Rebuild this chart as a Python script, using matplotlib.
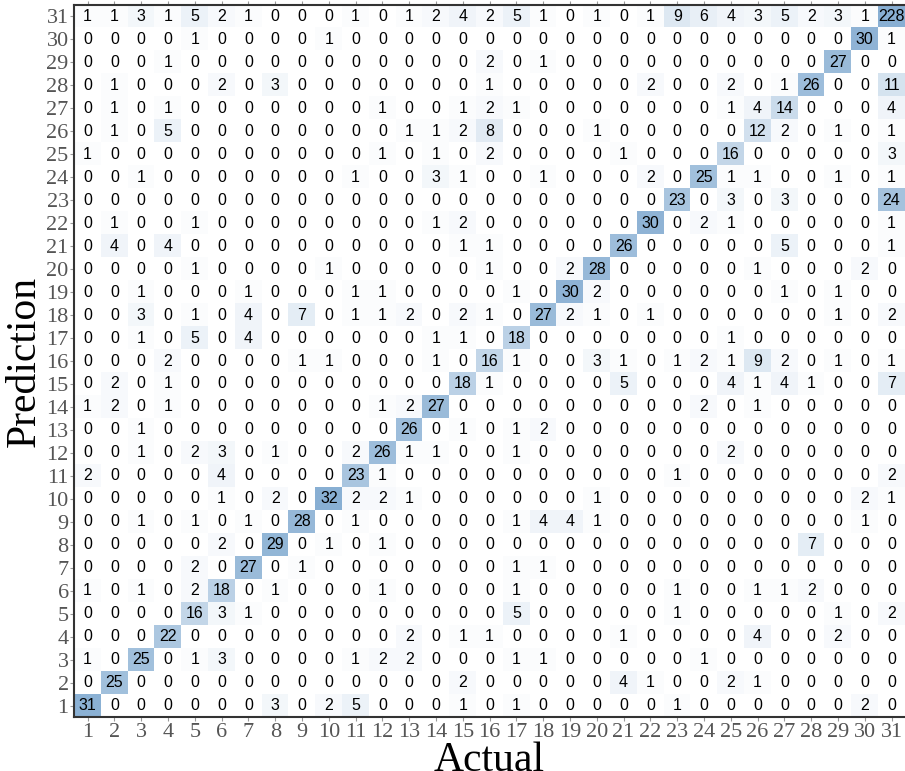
import numpy as np
import matplotlib
matplotlib.use("Agg")
import matplotlib.pyplot as plt
from matplotlib.colors import LinearSegmentedColormap

# class labels 1..31 (rows = prediction, columns = actual)
classes = list(range(1, 32))

# rows listed from prediction 1 (bottom) to 31 (top); columns actual 1..31
pred_1 = [31, 0, 0, 0, 0, 0, 0, 3, 0, 2, 5, 0, 0, 0, 1, 0, 1, 0, 0, 0, 0, 0, 1, 0, 0, 0, 0, 0, 0, 2, 0]
pred_2 = [0, 25, 0, 0, 0, 0, 0, 0, 0, 0, 0, 0, 0, 0, 2, 0, 0, 0, 0, 0, 4, 1, 0, 0, 2, 1, 0, 0, 0, 0, 0]
pred_3 = [1, 0, 25, 0, 1, 3, 0, 0, 0, 0, 1, 2, 2, 0, 0, 0, 1, 1, 0, 0, 0, 0, 0, 1, 0, 0, 0, 0, 0, 0, 0]
pred_4 = [0, 0, 0, 22, 0, 0, 0, 0, 0, 0, 0, 0, 2, 0, 1, 1, 0, 0, 0, 0, 1, 0, 0, 0, 0, 4, 0, 0, 2, 0, 0]
pred_5 = [0, 0, 0, 0, 16, 3, 1, 0, 0, 0, 0, 0, 0, 0, 0, 0, 5, 0, 0, 0, 0, 0, 1, 0, 0, 0, 0, 0, 1, 0, 2]
pred_6 = [1, 0, 1, 0, 2, 18, 0, 1, 0, 0, 0, 1, 0, 0, 0, 0, 1, 0, 0, 0, 0, 0, 1, 0, 0, 1, 1, 2, 0, 0, 0]
pred_7 = [0, 0, 0, 0, 2, 0, 27, 0, 1, 0, 0, 0, 0, 0, 0, 0, 1, 1, 0, 0, 0, 0, 0, 0, 0, 0, 0, 0, 0, 0, 0]
pred_8 = [0, 0, 0, 0, 0, 2, 0, 29, 0, 1, 0, 1, 0, 0, 0, 0, 0, 0, 0, 0, 0, 0, 0, 0, 0, 0, 0, 7, 0, 0, 0]
pred_9 = [0, 0, 1, 0, 1, 0, 1, 0, 28, 0, 1, 0, 0, 0, 0, 0, 1, 4, 4, 1, 0, 0, 0, 0, 0, 0, 0, 0, 0, 1, 0]
pred_10 = [0, 0, 0, 0, 0, 1, 0, 2, 0, 32, 2, 2, 1, 0, 0, 0, 0, 0, 0, 1, 0, 0, 0, 0, 0, 0, 0, 0, 0, 2, 1]
pred_11 = [2, 0, 0, 0, 0, 4, 0, 0, 0, 0, 23, 1, 0, 0, 0, 0, 0, 0, 0, 0, 0, 0, 1, 0, 0, 0, 0, 0, 0, 0, 2]
pred_12 = [0, 0, 1, 0, 2, 3, 0, 1, 0, 0, 2, 26, 1, 1, 0, 0, 1, 0, 0, 0, 0, 0, 0, 0, 2, 0, 0, 0, 0, 0, 0]
pred_13 = [0, 0, 1, 0, 0, 0, 0, 0, 0, 0, 0, 0, 26, 0, 1, 0, 1, 2, 0, 0, 0, 0, 0, 0, 0, 0, 0, 0, 0, 0, 0]
pred_14 = [1, 2, 0, 1, 0, 0, 0, 0, 0, 0, 0, 1, 2, 27, 0, 0, 0, 0, 0, 0, 0, 0, 0, 2, 0, 1, 0, 0, 0, 0, 0]
pred_15 = [0, 2, 0, 1, 0, 0, 0, 0, 0, 0, 0, 0, 0, 0, 18, 1, 0, 0, 0, 0, 5, 0, 0, 0, 4, 1, 4, 1, 0, 0, 7]
pred_16 = [0, 0, 0, 2, 0, 0, 0, 0, 1, 1, 0, 0, 0, 1, 0, 16, 1, 0, 0, 3, 1, 0, 1, 2, 1, 9, 2, 0, 1, 0, 1]
pred_17 = [0, 0, 1, 0, 5, 0, 4, 0, 0, 0, 0, 0, 0, 1, 1, 0, 18, 0, 0, 0, 0, 0, 0, 0, 1, 0, 0, 0, 0, 0, 0]
pred_18 = [0, 0, 3, 0, 1, 0, 4, 0, 7, 0, 1, 1, 2, 0, 2, 1, 0, 27, 2, 1, 0, 1, 0, 0, 0, 0, 0, 0, 1, 0, 2]
pred_19 = [0, 0, 1, 0, 0, 0, 1, 0, 0, 0, 1, 1, 0, 0, 0, 0, 1, 0, 30, 2, 0, 0, 0, 0, 0, 0, 1, 0, 1, 0, 0]
pred_20 = [0, 0, 0, 0, 1, 0, 0, 0, 0, 1, 0, 0, 0, 0, 0, 1, 0, 0, 2, 28, 0, 0, 0, 0, 0, 1, 0, 0, 0, 2, 0]
pred_21 = [0, 4, 0, 4, 0, 0, 0, 0, 0, 0, 0, 0, 0, 0, 1, 1, 0, 0, 0, 0, 26, 0, 0, 0, 0, 0, 5, 0, 0, 0, 1]
pred_22 = [0, 1, 0, 0, 1, 0, 0, 0, 0, 0, 0, 0, 0, 1, 2, 0, 0, 0, 0, 0, 0, 30, 0, 2, 1, 0, 0, 0, 0, 0, 1]
pred_23 = [0, 0, 0, 0, 0, 0, 0, 0, 0, 0, 0, 0, 0, 0, 0, 0, 0, 0, 0, 0, 0, 0, 23, 0, 3, 0, 3, 0, 0, 0, 24]
pred_24 = [0, 0, 1, 0, 0, 0, 0, 0, 0, 0, 1, 0, 0, 3, 1, 0, 0, 1, 0, 0, 0, 2, 0, 25, 1, 1, 0, 0, 1, 0, 1]
pred_25 = [1, 0, 0, 0, 0, 0, 0, 0, 0, 0, 0, 1, 0, 1, 0, 2, 0, 0, 0, 0, 1, 0, 0, 0, 16, 0, 0, 0, 0, 0, 3]
pred_26 = [0, 1, 0, 5, 0, 0, 0, 0, 0, 0, 0, 0, 1, 1, 2, 8, 0, 0, 0, 1, 0, 0, 0, 0, 0, 12, 2, 0, 1, 0, 1]
pred_27 = [0, 1, 0, 1, 0, 0, 0, 0, 0, 0, 0, 1, 0, 0, 1, 2, 1, 0, 0, 0, 0, 0, 0, 0, 1, 4, 14, 0, 0, 0, 4]
pred_28 = [0, 1, 0, 0, 0, 2, 0, 3, 0, 0, 0, 0, 0, 0, 0, 1, 0, 0, 0, 0, 0, 2, 0, 0, 2, 0, 1, 26, 0, 0, 11]
pred_29 = [0, 0, 0, 1, 0, 0, 0, 0, 0, 0, 0, 0, 0, 0, 0, 2, 0, 1, 0, 0, 0, 0, 0, 0, 0, 0, 0, 0, 27, 0, 0]
pred_30 = [0, 0, 0, 0, 1, 0, 0, 0, 0, 1, 0, 0, 0, 0, 0, 0, 0, 0, 0, 0, 0, 0, 0, 0, 0, 0, 0, 0, 0, 30, 1]
pred_31 = [1, 1, 3, 1, 5, 2, 1, 0, 0, 0, 1, 0, 1, 2, 4, 2, 5, 1, 0, 1, 0, 1, 9, 6, 4, 3, 5, 2, 3, 1, 228]

M = np.array([pred_1, pred_2, pred_3, pred_4, pred_5, pred_6, pred_7, pred_8,
              pred_9, pred_10, pred_11, pred_12, pred_13, pred_14, pred_15,
              pred_16, pred_17, pred_18, pred_19, pred_20, pred_21, pred_22,
              pred_23, pred_24, pred_25, pred_26, pred_27, pred_28, pred_29,
              pred_30, pred_31])

# pale blue scale, saturating around the diagonal counts
cmap = LinearSegmentedColormap.from_list("paleblue", ["#ffffff", "#88afd3"])

fig = plt.figure(figsize=(9.05, 7.71), dpi=100)
ax = fig.add_axes([0.082, 0.07, 0.918, 0.9235])

n = len(classes)
ax.imshow(M, cmap=cmap, vmin=0, vmax=32, origin="lower",
          aspect="auto", interpolation="nearest",
          extent=(0.5, n + 0.5, 0.5, n + 0.5))

for i in range(n):
    for j in range(n):
        ax.text(classes[j], classes[i], str(M[i, j]), ha="center", va="center",
                fontsize=11.5, family="Liberation Sans", color="black")

ax.set_xlim(0.5, n + 0.5)
ax.set_ylim(0.5, n + 0.5)
ax.set_xticks(classes)
ax.set_yticks(classes)
ax.set_xticklabels([str(c) for c in classes])
ax.set_yticklabels([str(c) for c in classes])

for lab in ax.get_xticklabels() + ax.get_yticklabels():
    lab.set_family("Liberation Serif")
    lab.set_fontsize(16)
    lab.set_color("#555555")
ax.tick_params(length=3, width=0.8, color="#999999", pad=1)
ax.tick_params(axis="x", top=True, direction="out")
ax.tick_params(axis="x", which="major", labeltop=False)

ax.set_xlabel("Actual", family="Liberation Serif", fontsize=30, labelpad=0)
ax.set_ylabel("Prediction", family="Liberation Serif", fontsize=30, labelpad=2)

for side in ["left", "bottom", "top"]:
    ax.spines[side].set_color("#333333")
    ax.spines[side].set_linewidth(1.5)
ax.spines["right"].set_visible(False)

fig.savefig("out.png", dpi=100)
